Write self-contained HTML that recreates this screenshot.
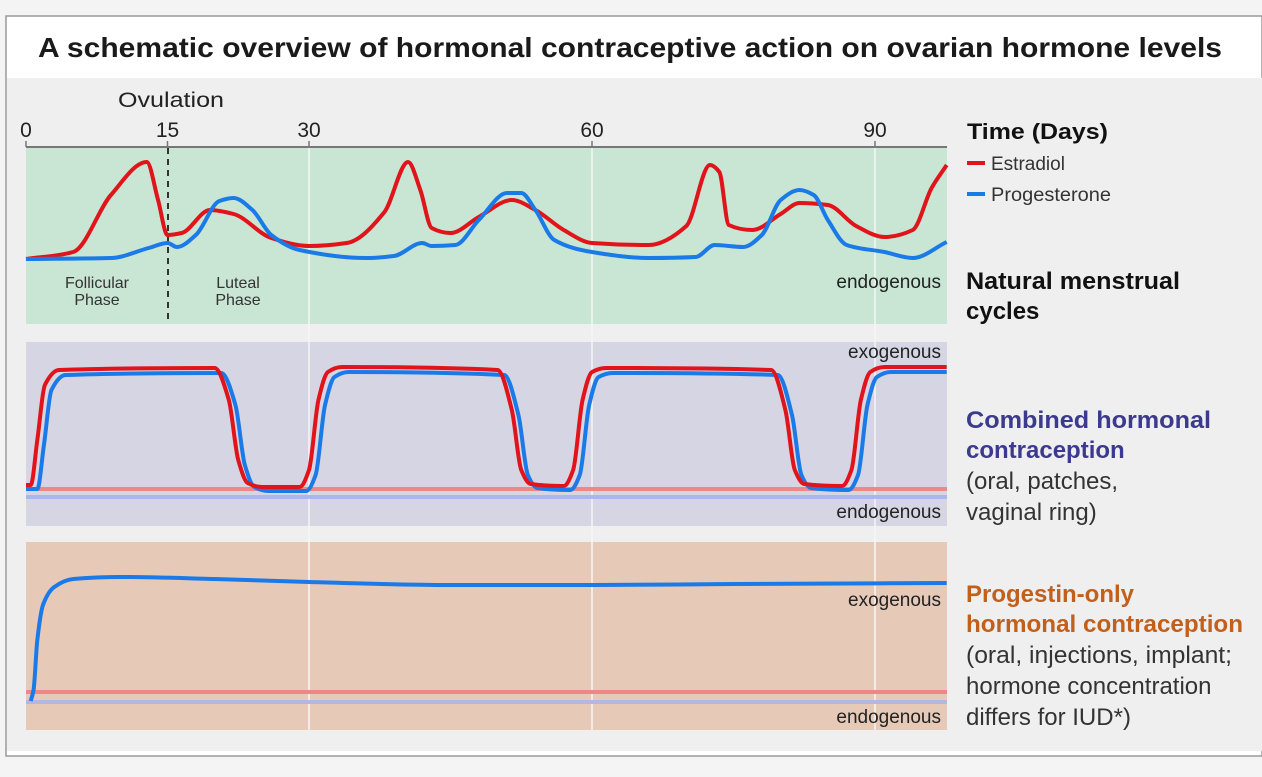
<!DOCTYPE html>
<html><head><meta charset="utf-8"><style>
body{margin:0;background:#f4f4f4;width:1262px;height:772px;overflow:hidden;font-family:"Liberation Sans",sans-serif}
</style></head><body>
<svg width="1262" height="772" xmlns="http://www.w3.org/2000/svg" font-family="Liberation Sans, sans-serif">
<rect x="6" y="16" width="1256" height="740" fill="#fff" stroke="#9a9a9a" stroke-width="1.5"/>
<rect x="7" y="78" width="1255" height="673" fill="#efefef"/>
<text x="38" y="57" font-size="28" font-weight="bold" fill="#1a1a1a" textLength="1184" lengthAdjust="spacingAndGlyphs">A schematic overview of hormonal contraceptive action on ovarian hormone levels</text>
<rect x="26" y="148" width="921" height="176" fill="#c9e5d3"/>
<rect x="26" y="342" width="921" height="184" fill="#d6d5e3"/>
<rect x="26" y="542" width="921" height="188" fill="#e6cab7"/>
<g id="grid"></g>
<line x1="26" y1="147" x2="947" y2="147" stroke="#777" stroke-width="2"/>
<g id="ticks"></g>
<text x="171" y="107" text-anchor="middle" font-size="21" fill="#222" textLength="106" lengthAdjust="spacingAndGlyphs">Ovulation</text>
<line x1="168" y1="148" x2="168" y2="324" stroke="#333" stroke-width="2" stroke-dasharray="6,5"/>
<text x="97" y="288" text-anchor="middle" font-size="16" fill="#333"><tspan x="97">Follicular</tspan><tspan x="97" dy="17">Phase</tspan></text>
<text x="238" y="288" text-anchor="middle" font-size="16" fill="#333"><tspan x="238">Luteal</tspan><tspan x="238" dy="17">Phase</tspan></text>
<line x1="26" y1="489" x2="947" y2="489" stroke="#ee8888" stroke-width="4"/>
<line x1="26" y1="497" x2="947" y2="497" stroke="#a8b8ee" stroke-width="4"/>
<line x1="26" y1="692" x2="947" y2="692" stroke="#ee8888" stroke-width="4"/>
<line x1="26" y1="702" x2="947" y2="702" stroke="#b4b8e0" stroke-width="4"/>
<g id="series"></g>
<g font-size="19" fill="#222" text-anchor="end">
<text x="941" y="288">endogenous</text>
<text x="941" y="358">exogenous</text>
<text x="941" y="518">endogenous</text>
<text x="941" y="606">exogenous</text>
<text x="941" y="723">endogenous</text>
</g>
<text x="967" y="139" font-size="22" font-weight="bold" fill="#111" textLength="141" lengthAdjust="spacingAndGlyphs">Time (Days)</text>
<line x1="967" y1="163" x2="985" y2="163" stroke="#e0141a" stroke-width="4"/>
<text x="991" y="170" font-size="19" fill="#333">Estradiol</text>
<line x1="967" y1="194" x2="985" y2="194" stroke="#1a7ae8" stroke-width="4"/>
<text x="991" y="201" font-size="19" fill="#333" textLength="120" lengthAdjust="spacingAndGlyphs">Progesterone</text>
<text font-size="24" font-weight="bold" fill="#111"><tspan x="966" y="289" textLength="214" lengthAdjust="spacingAndGlyphs">Natural menstrual</tspan><tspan x="966" y="319">cycles</tspan></text>
<text font-size="24" font-weight="bold" fill="#3c3a8e"><tspan x="966" y="428" textLength="245" lengthAdjust="spacingAndGlyphs">Combined hormonal</tspan><tspan x="966" y="458">contraception</tspan></text>
<text font-size="24" fill="#333"><tspan x="966" y="489">(oral, patches,</tspan><tspan x="966" y="520">vaginal ring)</tspan></text>
<text font-size="24" font-weight="bold" fill="#c0601c"><tspan x="966" y="602">Progestin-only</tspan><tspan x="966" y="632" textLength="277" lengthAdjust="spacingAndGlyphs">hormonal contraception</tspan></text>
<text font-size="24" fill="#333"><tspan x="966" y="663" textLength="266" lengthAdjust="spacingAndGlyphs">(oral, injections, implant;</tspan><tspan x="966" y="694">hormone concentration</tspan><tspan x="966" y="725">differs for IUD*)</tspan></text>
</svg>
<script>
const tickDays=[0,15,30,60,90];
const gridDays=[30,60,90];
const natE_days=[0,5,9,12.8,14,15,16.5,19.5,22,26,30,34,38,40.5,41.8,43,45,48,51.5,54,57,60,66,70,72.5,73.5,74.5,77,80,82,85,88,91,94,96,97.6];
const natE_vals=[259,252,195,162,200,235,233,210,214,238,246,243,212,162,190,228,233,217,200,210,230,243,245,226,165,172,225,230,214,203,205,226,237,230,188,165];
const natP_days=[0,9,13,15,16,18,20.5,22,24,26,29,36,39,42,43,45.5,48,51,52.5,54,56,60,66,71,73,76,78,80,82,83.5,85,87,91,94,97.6];
const natP_vals=[259,258,248,243,247,235,201,198,210,235,250,258,256,243,246,245,220,193,193,210,240,252,258,257,245,247,235,200,190,195,220,245,252,258,242];
const combE_days=[0,0.5,1.2,2,3.5,20,21.5,22.5,23.5,25,29,30,31,32,33.5,50,51.5,52.5,53.5,57,58,59,60,61.5,79,80.5,81.5,82.5,86.5,87.5,88.5,89.5,91,97.6];
const combE_vals=[485,485,440,385,370,368,400,460,483,487,487,470,400,372,367,370,410,470,484,486,470,400,372,368,370,410,470,484,486,470,400,372,367,367];
const combP_days=[0,1.2,1.9,2.7,4.2,20.7,22.2,23.2,24.2,25.7,29.7,30.7,31.7,32.7,34.2,50.7,52.2,53.2,54.2,57.7,58.7,59.7,60.7,62.2,79.7,81.2,82.2,83.2,87.2,88.2,89.2,90.2,91.7,97.6];
const combP_vals=[489,489,445,390,375,373,405,465,487,491,491,475,405,377,372,375,415,475,488,490,475,405,377,373,375,415,475,488,490,475,405,377,372,372];
const progP_days=[0.5,0.8,1.2,1.8,3,5,10,20,30,45,60,75,97.6];
const progP_vals=[701,690,640,605,587,579,577,579,582,585,585,584,583];
const x=d=>26+d*(283/30);
const NS='http://www.w3.org/2000/svg';
function path(days,vals){
 const X=days.map(x),Y=vals,n=X.length;
 const dl=[],m=[];
 for(let i=0;i<n-1;i++)dl.push((Y[i+1]-Y[i])/(X[i+1]-X[i]));
 m[0]=dl[0];m[n-1]=dl[n-2];
 for(let i=1;i<n-1;i++){
  if(dl[i-1]*dl[i]<=0)m[i]=0;
  else{const h0=X[i]-X[i-1],h1=X[i+1]-X[i];const w1=2*h1+h0,w2=h1+2*h0;m[i]=(w1+w2)/(w1/dl[i-1]+w2/dl[i]);}
 }
 let s='M'+X[0]+','+Y[0];
 for(let i=0;i<n-1;i++){
  const h=(X[i+1]-X[i])/3;
  s+=`C${X[i]+h},${Y[i]+m[i]*h} ${X[i+1]-h},${Y[i+1]-m[i+1]*h} ${X[i+1]},${Y[i+1]}`;
 }
 return s;
}
const grid=document.getElementById('grid');
gridDays.forEach(d=>{
 const l=document.createElementNS(NS,'line');
 l.setAttribute('x1',x(d));l.setAttribute('x2',x(d));l.setAttribute('y1',148);l.setAttribute('y2',730);
 l.setAttribute('stroke','#f6f6f6');l.setAttribute('stroke-width','1.5');
 
 
 grid.appendChild(l);
});
const ticks=document.getElementById('ticks');
tickDays.forEach(d=>{
 const l=document.createElementNS(NS,'line');
 l.setAttribute('x1',x(d));l.setAttribute('x2',x(d));l.setAttribute('y1',141);l.setAttribute('y2',147);
 l.setAttribute('stroke','#777');l.setAttribute('stroke-width','1.5');
 
 
 ticks.appendChild(l);
 const t=document.createElementNS(NS,'text');
 t.setAttribute('x',x(d));t.setAttribute('y',137);t.setAttribute('text-anchor','middle');
 t.setAttribute('font-size','21');t.setAttribute('fill','#222');t.textContent=d;
 
 
 ticks.appendChild(t);
});
const g=document.getElementById('series');
[[combP_days,combP_vals,'#1a7ae8','combined-progesterone'],[combE_days,combE_vals,'#e0141a','combined-estradiol'],
 [natE_days,natE_vals,'#e0141a','natural-estradiol'],[natP_days,natP_vals,'#1a7ae8','natural-progesterone'],
 [progP_days,progP_vals,'#1a7ae8','progestin-progesterone']].forEach(s=>{
 const p=document.createElementNS(NS,'path');
 p.setAttribute('d',path(s[0],s[1]));p.setAttribute('fill','none');p.setAttribute('stroke',s[2]);
 p.setAttribute('stroke-width','4');p.setAttribute('stroke-linejoin','round');
 
 
 g.appendChild(p);
});
</script>
</body></html>
